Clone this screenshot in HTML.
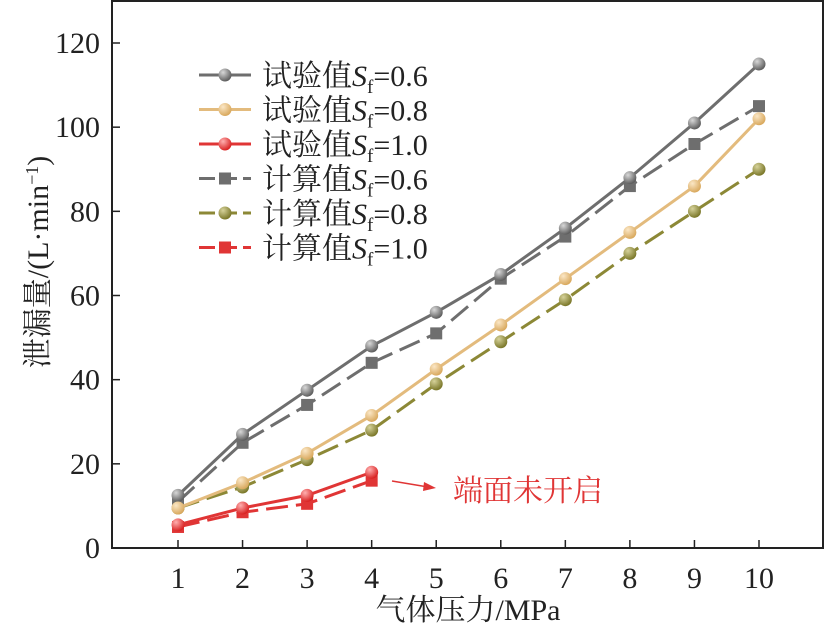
<!DOCTYPE html>
<html><head><meta charset="utf-8"><style>
body{margin:0;background:#fff}
svg{display:block;font-family:"Liberation Serif","Noto Serif CJK SC",serif}
</style></head><body>
<svg id="c" width="825" height="629">
<defs>
<radialGradient id="gGray" cx="0.35" cy="0.3" r="0.7"><stop offset="0" stop-color="#d8d8d8"/><stop offset="1" stop-color="#5e5e5e"/></radialGradient>
<radialGradient id="gTan" cx="0.35" cy="0.3" r="0.7"><stop offset="0" stop-color="#fbe7c6"/><stop offset="1" stop-color="#d9a95e"/></radialGradient>
<radialGradient id="gRed" cx="0.35" cy="0.3" r="0.7"><stop offset="0" stop-color="#ffb0b0"/><stop offset="1" stop-color="#d92323"/></radialGradient>
<radialGradient id="gOlive" cx="0.35" cy="0.3" r="0.7"><stop offset="0" stop-color="#d6d29a"/><stop offset="1" stop-color="#7b782a"/></radialGradient>
</defs>
</svg>
<script>
const xCats=[1,2,3,4,5,6,7,8,9,10];
const yTicks=[0,20,40,60,80,100,120];
const exp06=[12.5,27,37.5,48,56,65,76,88,101,115];
const exp08=[9.5,15.5,22.5,31.5,42.5,53,64,75,86,102];
const exp10=[5.5,9.5,12.5,18];
const calc06=[11,25,34,44,51,64,74,86,96,105];
const calc08=[9.5,14.5,21,28,39,49,59,70,80,90];
const calc10=[5,8.5,10.5,16];
const seriesNames=["试验值","试验值","试验值","计算值","计算值","计算值"];
const seriesSf=["0.6","0.8","1.0","0.6","0.8","1.0"];

const svg=document.getElementById('c');
const NS='http://www.w3.org/2000/svg';
const L=112,R=823,T=1,B=548;
const xs=v=>178+(v-1)*(759-178)/9;
const ys=v=>B-v*(B-43)/120;
function mk(t,a,p){const e=document.createElementNS(NS,t);for(const k in a)e.setAttribute(k,a[k]);(p||svg).appendChild(e);return e;}

const frame=mk('rect',{x:L,y:T,width:R-L,height:B-T,fill:'none',stroke:'#222','stroke-width':2});


yTicks.forEach(v=>{
 const t=mk('line',{x1:L,x2:L+8,y1:ys(v),y2:ys(v),stroke:'#222','stroke-width':1.5});
 
 
 const l=mk('text',{x:L-12,y:ys(v)+10,'text-anchor':'end','font-size':30,fill:'#222'});l.textContent=v;
 
 
});
xCats.forEach(v=>{
 const t=mk('line',{x1:xs(v),x2:xs(v),y1:B,y2:B-8,stroke:'#222','stroke-width':1.5});
 
 
 const l=mk('text',{x:xs(v),y:B+40,'text-anchor':'middle','font-size':30,fill:'#222'});l.textContent=v;
 
 
});
const xt=mk('text',{x:468,y:620,'text-anchor':'middle','font-size':30,fill:'#222'});xt.textContent='气体压力/MPa';


const yt=mk('text',{transform:'translate(48,262) rotate(-90)','text-anchor':'middle','font-size':30,fill:'#222'});
yt.innerHTML='泄漏量/(L·min<tspan dy="-10" font-size="18">−1</tspan><tspan dy="10">)</tspan>';



const S=[
 {d:exp06,c:'#6e6e6e',g:'gGray',dash:'',m:'c'},
 {d:exp08,c:'#e3bb7d',g:'gTan',dash:'',m:'c'},
 {d:exp10,c:'#e03535',g:'gRed',dash:'',m:'c'},
 {d:calc06,c:'#6e6e6e',g:'',dash:'22 8',m:'s'},
 {d:calc08,c:'#8c8836',g:'gOlive',dash:'22 8',m:'c'},
 {d:calc10,c:'#e03535',g:'',dash:'22 8',m:'s'}
];
function marker(x,y,s){
 let e;
 if(s.m==='c')e=mk('circle',{cx:x,cy:y,r:6.5,fill:'url(#'+s.g+')'});
 else e=mk('rect',{x:x-6,y:y-6,width:12,height:12,fill:s.c});
 return e;
}
[3,4,5,0,1,2].forEach(i=>{
 const s=S[i];
 const pts=s.d.map((v,j)=>xs(xCats[j])+','+ys(v)).join(' ');
 const pl=mk('polyline',{points:pts,fill:'none',stroke:s.c,'stroke-width':3,'stroke-dasharray':s.dash});
 
 
 s.d.forEach((v,j)=>{
  const m=marker(xs(xCats[j]),ys(v),s);
  
  
 });
});
// legend
S.forEach((s,i)=>{
 const y=75+i*34.5;
 const ln=mk('line',{x1:199,x2:251,y1:y,y2:y,stroke:s.c,'stroke-width':3,'stroke-dasharray':s.dash?'16 6':''});
 
 
 const m=marker(225,y,s);
 
 
 const t=mk('text',{x:262,y:y+11,'font-size':30,fill:'#222'});
 t.innerHTML=seriesNames[i]+'<tspan font-style="italic">S</tspan><tspan font-size="19" dy="7">f</tspan><tspan dy="-7">='+seriesSf[i]+'</tspan>';
 
 
});
// annotation
const ar=mk('line',{x1:392,y1:481,x2:428,y2:487,stroke:'#e03535','stroke-width':1.5});


const ah=mk('polygon',{points:'436,488 424,482 423,491',fill:'#e03535'});


const at=mk('text',{x:453,y:501,'font-size':30,fill:'#e03535'});at.textContent='端面未开启';


</script>
</body></html>
